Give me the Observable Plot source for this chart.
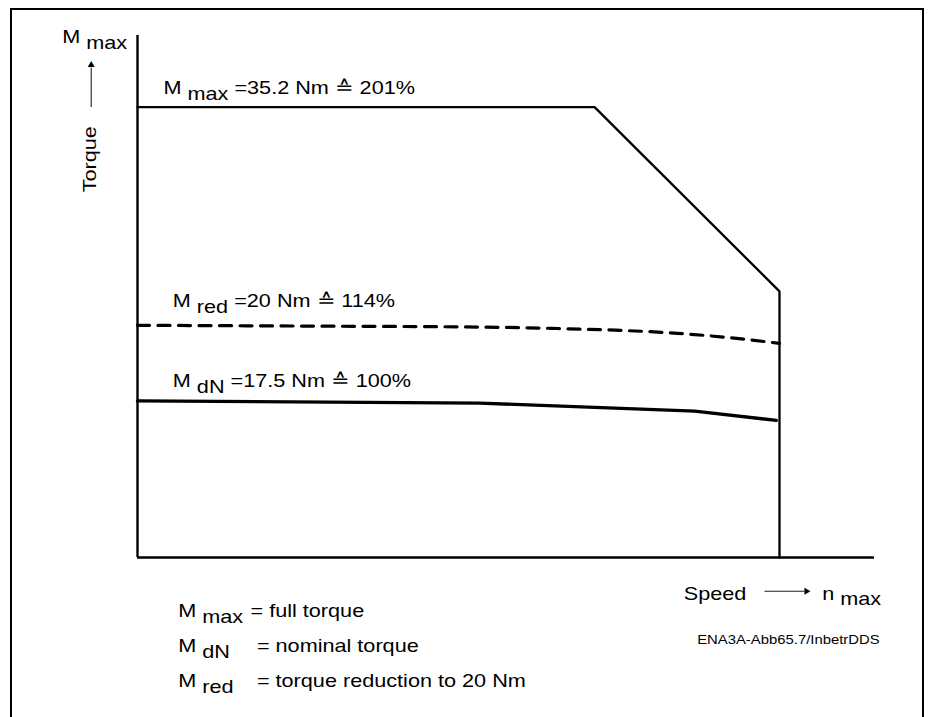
<!DOCTYPE html>
<html>
<head>
<meta charset="utf-8">
<script src="https://cdn.jsdelivr.net/npm/d3@7"></script>
<script src="https://cdn.jsdelivr.net/npm/@observablehq/plot@0.6"></script>
<style>
  html, body { margin: 0; padding: 0; background: #fff; }
  #wrap { position: relative; width: 928px; height: 717px; overflow: hidden; }
  #frame { position: absolute; left: 10px; top: 7.5px; width: 914px; height: 760px;
           border: 2.6px solid #000; box-sizing: border-box; pointer-events: none; }
</style>
</head>
<body>
<div id="wrap">
  <div id="chart"></div>
  <div id="frame"></div>
</div>
<script>
const mmaxSpeed  = [0, 71.2, 100, 100];
const mmaxTorque = [35.2, 35.2, 20.8, 0];

const mredSpeed  = [0, 25.4, 53.3, 64.5, 84.1, 90.8, 100];
const mredTorque = [18.15, 18.09, 18.01, 17.91, 17.52, 17.25, 16.74];

const mdnSpeed   = [0, 53.3, 86.8, 99.5];
const mdnTorque  = [12.24, 12.07, 11.44, 10.72];

const speedMax  = 114.8;   // end of speed axis
const torqueMax = 40.8;    // end of torque axis

// ---- annotation texts ----
const curveLabels  = ["M _{max} =35.2 Nm ≙ 201%", "M _{red} =20 Nm ≙ 114%", "M _{dN} =17.5 Nm ≙ 100%"];
const legendSymbols = ["M _{max}", "M _{dN}", "M _{red}"];
const legendTexts   = ["= full torque", "= nominal torque", "= torque reduction to 20 Nm"];
const axisTitleY = "Torque";
const axisTopLabel = "M _{max}";
const axisTitleX = "Speed";
const axisEndLabel = "n _{max}";
const figureId = "ENA3A-Abb65.7/InbetrDDS";

const toRows = (xs, ys) => xs.map((x, i) => ({speed: x, torque: ys[i]}));
const mmax = toRows(mmaxSpeed, mmaxTorque);
const mred = toRows(mredSpeed, mredTorque);
const mdn  = toRows(mdnSpeed, mdnTorque);

// annotation anchors (speed, torque), baselines
const curveLabelPos = [{x: 4.05, y: 36.2}, {x: 5.5, y: 19.55}, {x: 5.5, y: 13.3}];
const legendPos = [-4.67, -7.41, -10.15];

const curveLabelRows = curveLabels.map((t, i) => ({text: t, ...curveLabelPos[i]}));
const legendSymRows = legendSymbols.map((t, i) => ({text: t, x: 6.34, y: legendPos[i]}));
const legendTxtRows = legendTexts.map((t, i) => ({text: t, x: i === 0 ? 17.6 : 18.6, y: legendPos[i]}));

const base = {fill: "black", textAnchor: "start", lineAnchor: "bottom"};
const FS = 18.5;

const svg = Plot.plot({
  width: 928,
  height: 717,
  marginLeft: 137,
  marginRight: 54,
  marginTop: 35,
  marginBottom: 160,
  style: {fontFamily: "'Liberation Sans', Arial, Helvetica, sans-serif", background: "white", overflow: "visible"},
  x: {domain: [0, speedMax], axis: null},
  y: {domain: [0, torqueMax], axis: null},
  marks: [
    // axes
    Plot.ruleX([0], {y1: 0, y2: torqueMax, stroke: "black", strokeWidth: 2.4}),
    Plot.ruleY([0], {x1: 0, x2: speedMax, stroke: "black", strokeWidth: 2.4}),
    // curves
    Plot.line(mmax, {x: "speed", y: "torque", stroke: "black", strokeWidth: 2.3, strokeLinejoin: "miter"}),
    Plot.line(mred, {x: "speed", y: "torque", stroke: "black", strokeWidth: 3.2, strokeDasharray: "12,8.5", curve: "monotone-x"}),
    Plot.line(mdn, {x: "speed", y: "torque", stroke: "black", strokeWidth: 3.4}),
    // curve labels
    Plot.text(curveLabelRows, {x: "x", y: "y", text: "text", fontSize: FS, ...base}),
    // axis labels
    Plot.text([axisTopLabel], {x: -11.73, y: 40.21, text: d => d, fontSize: FS, ...base}),
    Plot.text([axisTitleY], {x: -6.4, y: 31.13, text: d => d, fontSize: FS, rotate: -90,
                             fill: "black", textAnchor: "middle", lineAnchor: "bottom"}),
    Plot.link([0], {x1: -7.21, x2: -7.21, y1: 35.22, y2: 38.3, stroke: "#222", strokeWidth: 1.1}),
    Plot.dot([0], {x: -7.21, y: 38.5, symbol: "triangle", r: 2.6, fill: "black", stroke: null}),
    Plot.text([axisTitleX], {x: 85.09, y: -3.36, text: d => d, fontSize: FS, ...base}),
    Plot.link([0], {x1: 97.66, x2: 103.9, y1: -2.64, y2: -2.64, stroke: "#222", strokeWidth: 1.1}),
    Plot.dot([0], {x: 104.2, y: -2.64, symbol: "triangle", r: 2.6, rotate: 90, fill: "black", stroke: null}),
    Plot.text([axisEndLabel], {x: 106.65, y: -3.29, text: d => d, fontSize: FS, ...base}),
    Plot.text([figureId], {x: 87.18, y: -6.75, text: d => d, fontSize: 13.5, ...base}),
    // legend
    Plot.text(legendSymRows, {x: "x", y: "y", text: "text", fontSize: FS, ...base}),
    Plot.text(legendTxtRows, {x: "x", y: "y", text: "text", fontSize: FS, ...base})
  ]
});

document.getElementById("chart").append(svg);

// subscripts and horizontal widening of the type (the scan is wide-set)
const subShift = 5.5;
d3.select(svg).selectAll("text").each(function () {
  const t = this.textContent;
  if (t.includes("_{")) {
    const parts = t.split(/(_\{[^}]*\})/).filter(p => p.length);
    this.textContent = "";
    let prevSub = false;
    for (const p of parts) {
      const isSub = p.startsWith("_{");
      const ts = d3.select(this).append("tspan").text(isSub ? p.slice(2, -1) : p);
      if (isSub) ts.attr("dy", subShift);
      else if (prevSub) ts.attr("dy", -subShift);
      prevSub = isSub;
    }
  }
  const fs = parseFloat(getComputedStyle(this).fontSize);
  const factor = fs > 15 ? 1.17 : 1.1;
  const len = this.getComputedTextLength();
  this.setAttribute("textLength", (len * factor).toFixed(1));
  this.setAttribute("lengthAdjust", "spacingAndGlyphs");
});
</script>
</body>
</html>
